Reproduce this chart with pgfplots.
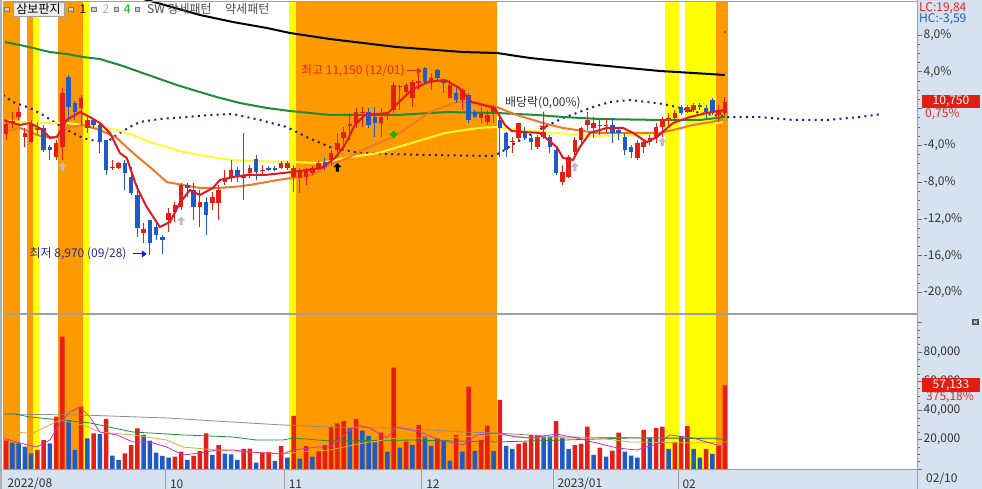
\documentclass[border=0pt]{standalone}
\usepackage{pgfplots}
\usepackage{pgfplotstable}
\pgfplotsset{compat=1.18}
\usetikzlibrary{arrows.meta}
\usepackage{fontspec}
\setmainfont{Noto Sans CJK KR}
\newcommand\fs{\fontsize{12bp}{13bp}\selectfont}
\definecolor{cOrange}{RGB}{255,153,0}
\definecolor{cYellow}{RGB}{255,255,0}
\definecolor{cUp}{RGB}{230,30,20}
\definecolor{cDown}{RGB}{30,90,200}
\definecolor{cPanel}{RGB}{214,226,240}
\definecolor{cFrame}{RGB}{160,160,160}
\definecolor{cBorder}{RGB}{175,175,175}
\definecolor{cTick}{RGB}{110,110,110}
\definecolor{cLabel}{RGB}{50,50,50}
\definecolor{cRedLine}{RGB}{225,25,35}
\definecolor{cOrLine}{RGB}{240,120,40}
\definecolor{cYelLine}{RGB}{255,250,50}
\definecolor{cGreen}{RGB}{30,140,60}
\definecolor{cDot}{RGB}{30,30,140}
\definecolor{cVGray}{RGB}{140,140,140}
\definecolor{cVGold}{RGB}{230,170,40}
\definecolor{cVMag}{RGB}{200,50,200}
\definecolor{cGrayArr}{RGB}{190,190,190}
\definecolor{cHi}{RGB}{225,40,30}
\definecolor{cLo}{RGB}{40,40,140}
\definecolor{cLoArr}{RGB}{20,20,220}
\definecolor{cBox}{RGB}{225,30,20}
\definecolor{cSqB}{RGB}{120,120,120}
\definecolor{cSqF}{RGB}{205,205,205}
\definecolor{cBoxBg}{RGB}{235,235,235}

\pgfdeclareplotmark{uparr}{%
 \pgfpathmoveto{\pgfpoint{0bp}{4.5bp}}%
 \pgfpathlineto{\pgfpoint{4bp}{0.5bp}}%
 \pgfpathlineto{\pgfpoint{1.6bp}{0.5bp}}%
 \pgfpathlineto{\pgfpoint{1.6bp}{-4bp}}%
 \pgfpathlineto{\pgfpoint{-1.6bp}{-4bp}}%
 \pgfpathlineto{\pgfpoint{-1.6bp}{0.5bp}}%
 \pgfpathlineto{\pgfpoint{-4bp}{0.5bp}}%
 \pgfpathclose\pgfusepathqfill}
\pgfdeclareplotmark{downarr}{%
 \pgfpathmoveto{\pgfpoint{0bp}{-9.5bp}}%
 \pgfpathlineto{\pgfpoint{4.5bp}{-4.5bp}}%
 \pgfpathlineto{\pgfpoint{0.6bp}{-4.5bp}}%
 \pgfpathlineto{\pgfpoint{0.6bp}{9.5bp}}%
 \pgfpathlineto{\pgfpoint{-0.6bp}{9.5bp}}%
 \pgfpathlineto{\pgfpoint{-0.6bp}{-4.5bp}}%
 \pgfpathlineto{\pgfpoint{-4.5bp}{-4.5bp}}%
 \pgfpathclose\pgfusepathqfill}
\pgfdeclareplotmark{gstar}{%
 \pgfpathrectangle{\pgfpoint{-3.5bp}{-1.3bp}}{\pgfpoint{7bp}{2.6bp}}%
 \pgfpathrectangle{\pgfpoint{-1.3bp}{-3.5bp}}{\pgfpoint{2.6bp}{7bp}}%
 \pgfpathcircle{\pgfpoint{0bp}{0bp}}{2.4bp}%
 \pgfusepathqfill}

% up (red) candles
\pgfplotstableread{
i o h l c
0 10370 10550 10300 10490
1 10500 10630 10440 10530
2 10570 10690 10540 10630
3 10340 10440 10220 10390
4 10280 10540 10270 10500
5 10420 10510 10360 10440
8 10110 10300 10070 10270
9 10220 10910 10070 10850
12 10680 10830 10480 10790
13 10440 10570 10390 10540
17 9980 10070 9960 9990
18 9980 10050 9970 10040
22 9230 9340 9110 9270
26 9380 9520 9240 9460
27 9470 9590 9350 9550
28 9530 9810 9490 9780
31 9530 9730 9300 9590
33 9570 9700 9490 9640
34 9570 9780 9380 9720
35 9820 9960 9780 9860
36 9860 10070 9820 9960
38 9860 10390 9610 9900
39 9920 10020 9860 9980
41 9950 10020 9900 9960
44 9980 10060 9970 10040
45 9980 10060 9960 10040
46 9870 10010 9700 9980
47 9860 9980 9690 9960
48 9880 9980 9780 9960
49 9920 10000 9900 9980
50 9980 10060 9960 10040
52 10070 10190 10010 10150
53 10190 10390 10110 10270
54 10330 10460 10220 10400
55 10470 10620 10300 10490
56 10500 10670 10440 10630
57 10620 10690 10460 10630
60 10500 10680 10340 10570
61 10590 10630 10540 10600
62 10650 10980 10620 10940
63 10920 10940 10650 10930
64 10860 10960 10840 10940
65 10790 11000 10690 10980
66 10970 11120 10890 10990
68 10980 11080 10890 11020
71 10790 11000 10790 10940
73 10770 10910 10650 10890
76 10560 10690 10500 10620
77 10510 10650 10480 10600
78 10630 10710 10500 10680
81 10280 10340 10150 10290
82 10330 10500 10280 10500
85 10220 10360 10200 10340
86 10340 10420 10320 10400
89 9820 10020 9780 9930
90 9880 10130 9860 10110
91 10160 10340 10130 10310
92 10310 10460 10250 10440
93 10480 10630 10420 10540
94 10440 10570 10330 10500
95 10470 10540 10360 10480
96 10470 10560 10390 10480
101 10100 10300 10070 10270
102 10220 10300 10150 10280
103 10280 10360 10250 10330
104 10330 10500 10270 10460
105 10460 10570 10340 10550
106 10550 10620 10460 10560
107 10560 10650 10540 10620
109 10630 10710 10620 10690
110 10650 10730 10630 10710
114 10600 10710 10510 10650
115 10620 10800 10580 10750
}\upT

% down (blue) candles
\pgfplotstableread{
i o h l c
6 10440 10480 10170 10190
7 10220 10250 10070 10190
10 11040 11060 10510 10690
11 10730 10760 10540 10630
14 10540 10560 10440 10480
15 10480 10500 10150 10280
16 10300 10310 9900 9960
19 10040 10070 9730 9920
20 9870 9990 9670 9690
21 9670 9780 9180 9280
23 9380 9380 8970 9110
24 9300 9340 9150 9200
25 9180 9200 8980 9150
29 9780 9810 9640 9750
30 9730 9810 9380 9530
32 9590 9640 9200 9440
37 9960 9990 9820 9880
40 10090 10130 9840 9930
42 9980 10000 9940 9960
43 9980 10000 9940 9960
51 10050 10100 9960 9990
58 10630 10670 10440 10480
59 10570 10690 10340 10500
67 11140 11150 10940 10980
69 11120 11130 11000 11020
70 11000 11000 10850 10970
72 10850 10920 10730 10770
74 10830 10850 10500 10540
75 10630 10650 10560 10570
79 10540 10620 10110 10440
80 10390 10400 10110 10190
83 10400 10460 10300 10330
84 10330 10360 10190 10280
87 10340 10360 10150 10220
88 10190 10210 9900 9920
97 10480 10560 10270 10390
98 10420 10460 10300 10390
99 10340 10390 10130 10190
100 10220 10250 10100 10170
108 10690 10710 10600 10620
111 10710 10730 10650 10690
112 10680 10710 10560 10630
113 10770 10790 10600 10630
}\downT

% volume, red bars
\pgfplotstableread{
i v
0 19400
5 13000
6 19800
8 35800
9 90500
12 42600
14 24400
16 34200
19 10700
20 16400
21 27800
27 8400
28 11800
30 8900
31 12300
32 24400
34 16400
38 13700
39 14000
41 11200
42 11500
44 15700
46 36300
48 15700
50 12500
51 16400
52 28700
53 31200
54 32800
56 34200
60 24800
62 69300
64 18700
66 30100
69 21000
72 23300
74 56300
76 19800
77 29600
79 47200
82 17100
83 18200
84 23300
85 23300
88 32800
91 16400
92 17100
93 28900
95 14600
97 12500
98 24800
102 26700
104 28200
105 28900
107 18200
108 22600
109 29400
112 13700
114 15700
115 57133
}\volUp

% volume, blue bars
\pgfplotstableread{
i v
1 18000
2 17600
3 15300
4 10700
7 17600
10 33500
11 13000
13 21000
15 23900
17 9100
18 6200
22 23300
23 19400
24 11200
25 8900
26 7700
29 6200
33 9600
35 10600
36 10000
37 6200
40 4300
43 5500
45 7700
47 7100
49 8400
55 27800
57 26200
58 22600
59 18200
61 11800
63 14600
65 16400
67 22100
68 15900
70 19200
71 5700
73 11800
75 12300
78 12300
80 15900
81 13700
86 22100
87 21800
89 21400
90 13700
94 9600
96 8400
99 11800
100 9100
101 7700
103 21700
106 13700
110 13700
111 7700
113 10300
}\volDown

\begin{document}
\begin{tikzpicture}
\useasboundingbox (0,0) rectangle (982bp,489bp);
\begin{scope}[x=1bp,y=1bp]
\fill[white] (0,0) rectangle (982,489);
\fill[cPanel] (917,0) rectangle (982,489);
\fill[cPanel] (0,0) rectangle (917,20);
\fill[cBorder] (0,0) rectangle (2.5,489);
\end{scope}

%================ PRICE PANEL ================
\begin{axis}[
  name=price, at={(3bp,176bp)}, anchor=south west,
  scale only axis, width=914bp, height=312bp,
  xmin=0, xmax=146.24, ymin=8298, ymax=11917,
  axis on top, clip mode=individual,
  axis line style={cFrame, line width=0.8bp},
  scaled ticks=false,
  xtick=\empty,
  ytick pos=right, yticklabel pos=right, tick align=outside,
  ytick={8536,8962.8,9389.6,9816.4,10243.2,10670,11096.8,11523.6},
  yticklabels={{-20,0\%},{-16,0\%},{-12,0\%},{-8,0\%},{-4,0\%},{},{4,0\%},{8,0\%}},
  minor y tick num=3,
  major tick length=5bp, minor tick length=3bp,
  tick style={cTick, line width=0.6bp},
  yticklabel style={font=\fs, text=cLabel, inner sep=1.5bp},
]
% pattern bands
\fill[cOrange] (axis cs:0,8298) rectangle (axis cs:2.72,11917);
\fill[cOrange] (axis cs:3.84,8298) rectangle (axis cs:4.8,11917);
\fill[cYellow] (axis cs:4.8,8298) rectangle (axis cs:5.76,11917);
\fill[cOrange] (axis cs:8.8,8298) rectangle (axis cs:12.8,11917);
\fill[cYellow] (axis cs:12.8,8298) rectangle (axis cs:13.76,11917);
\fill[cYellow] (axis cs:45.76,8298) rectangle (axis cs:46.88,11917);
\fill[cOrange] (axis cs:46.88,8298) rectangle (axis cs:79.04,11917);
\fill[cYellow] (axis cs:105.92,8298) rectangle (axis cs:108.16,11917);
\fill[cYellow] (axis cs:109.12,8298) rectangle (axis cs:114.08,11917);
\fill[cOrange] (axis cs:114.08,8298) rectangle (axis cs:116,11917);

% dotted line
\addplot[cDot, line width=2bp, dash pattern=on 2bp off 4.25bp] coordinates {
(0,10827) (1.6,10745) (4.3,10676) (6.4,10595) (10.2,10421) (12.8,10328) (13.9,10305)
(16.6,10281) (18.7,10386) (20.3,10455) (21.9,10514) (25.1,10548) (29.4,10571)
(33.1,10595) (36.8,10606) (41.1,10537) (45.4,10455) (48.6,10339) (52.3,10223)
(56.3,10165) (61.1,10142) (68.0,10131) (78.2,10119) (79.5,10154) (82.2,10281)
(86.4,10444) (89.6,10560) (91.8,10618) (94.4,10687) (97.1,10745) (100.3,10769)
(105.6,10722) (107.8,10687) (111.5,10618) (115.8,10571) (121.1,10571) (126.4,10537)
(131.8,10537) (137.1,10571) (140.6,10606)};
% black long MA
\addplot[black, line width=2bp] coordinates {
(20.3,11987) (23.0,11929) (31.5,11755) (36.8,11673) (42.2,11604) (45.9,11546)
(52.3,11476) (63.0,11383) (73.6,11325) (79.0,11314) (84.3,11256) (95.0,11175)
(105.1,11105) (110.4,11082) (115.5,11059)};
% green MA
\addplot[cGreen, line width=2bp] coordinates {
(0.3,11441) (2.7,11407) (4.8,11372) (7.5,11325) (10.2,11302) (12.8,11267) (15.5,11244)
(19.2,11163) (21.9,11093) (24.6,11024) (27.8,10943) (31.5,10861) (34.2,10803)
(37.9,10734) (42.2,10676) (45.9,10641) (52.3,10595) (63.0,10595) (71.0,10629)
(79.0,10618) (85.4,10595) (89.6,10571) (95.5,10548) (105.1,10537) (111.5,10537)
(115.5,10571)};
% yellow MA
\addplot[cYelLine, line width=2bp] coordinates {
(0,10537) (2.7,10514) (6.4,10502) (10.2,10502) (12.8,10479) (15.5,10455) (18.2,10421)
(20.8,10363) (23.5,10281) (26.2,10223) (28.8,10165) (31.5,10131) (34.2,10096)
(36.8,10073) (39.5,10061) (46.2,10049) (51.0,10038) (54.7,10096) (60.0,10154)
(65.4,10270) (70.7,10386) (76.0,10444) (78.7,10455) (83.2,10421) (88.6,10386)
(93.9,10351) (101.9,10363) (104.6,10386) (109.9,10455) (115.2,10514)};
% orange MA
\addplot[cOrLine, line width=2bp] coordinates {
(0,10398) (2.7,10444) (6.4,10339) (8.6,10339) (10.2,10444) (12.8,10479) (15.5,10421)
(18.2,10328) (20.8,10154) (23.5,9991) (26.2,9817) (28.8,9783) (31.5,9748) (34.2,9748)
(36.8,9759) (39.5,9783) (44.0,9841) (49.4,9899) (52.3,10015) (55.5,10107) (57.6,10189)
(63.0,10363) (68.3,10629) (72.6,10745) (76.3,10734) (79.0,10687) (82.2,10595)
(86.4,10502) (89.6,10444) (95.0,10386) (105.1,10386) (107.2,10421) (110.4,10479)
(115.2,10537)};

% candles: wicks
\addplot[draw=none, mark=none, forget plot, error bars/.cd, y dir=plus, y explicit,
  error mark=none, error bar style={draw=cUp, line width=1bp}]
  table[x expr=\thisrow{i}+0.5, y=l, y error plus expr=\thisrow{h}-\thisrow{l}] {\upT};
\addplot[draw=none, mark=none, forget plot, error bars/.cd, y dir=plus, y explicit,
  error mark=none, error bar style={draw=cDown, line width=1bp}]
  table[x expr=\thisrow{i}+0.5, y=l, y error plus expr=\thisrow{h}-\thisrow{l}] {\downT};
% candles: bodies
\addplot[draw=none, mark=none, forget plot, error bars/.cd, y dir=plus, y explicit,
  error mark=none, error bar style={draw=cUp, line width=4.6bp}]
  table[x expr=\thisrow{i}+0.5, y=o, y error plus expr={max(\thisrow{c}-\thisrow{o},12)}] {\upT};
\addplot[draw=none, mark=none, forget plot, error bars/.cd, y dir=plus, y explicit,
  error mark=none, error bar style={draw=cDown, line width=4.6bp}]
  table[x expr=\thisrow{i}+0.5, y=c, y error plus expr={max(\thisrow{o}-\thisrow{c},12)}] {\downT};

% red short MA
\addplot[cRedLine, line width=2bp] coordinates {
(0,10537) (2.7,10479) (4.3,10502) (6.4,10421) (7.5,10328) (8.6,10339) (10.2,10537)
(12.3,10629) (13.9,10571) (15.5,10502) (17.1,10386) (18.7,10154) (19.8,10096)
(21.4,9759) (23.0,9527) (25.1,9295) (26.7,9353) (28.3,9574) (29.9,9725) (31.5,9667)
(33.6,9748) (34.7,9841) (36.8,9875) (39.0,9899) (41.9,9899) (46.2,9933) (51.0,9980)
(53.1,10096) (54.7,10247) (56.3,10479) (57.9,10595) (61.6,10618) (63.2,10734)
(65.4,10885) (68.0,10977) (70.7,11001) (72.8,10919) (75.0,10745) (78.7,10676)
(80.3,10479) (81.4,10409) (83.2,10398) (85.9,10386) (88.6,10223) (89.6,10096)
(91.2,10073) (92.3,10223) (93.9,10386) (96.6,10444) (99.2,10444) (100.8,10386)
(103.0,10281) (104.6,10339) (107.2,10502) (109.9,10571) (112.6,10618) (115.5,10653)};

% signal marks
\addplot[only marks, mark=uparr, color=cGrayArr] coordinates {(9.5,9991) (28.5,9365) (91.5,9991) (105.5,10281)};
\addplot[only marks, mark=uparr, color=black] coordinates {(53.5,9985)};
\addplot[only marks, mark=gstar, color=green!75!black] coordinates {(62.5,10370)};
\addplot[only marks, mark=downarr, color=cUp] coordinates {(86.5,10525)};
\addplot[only marks, mark=*, mark size=0.8bp, color=cUp] coordinates {(115.5,11557)};

% annotations
\node[anchor=east, text=cHi, font=\fs, inner sep=0pt] at (axis cs:64.3,11105) {최고 11,150 (12/01)};
\draw[cHi, line width=1bp, -{Triangle[length=5bp,width=7bp]}] (axis cs:64.6,11105) -- (axis cs:67.0,11105);
\node[anchor=east, text=cLo, font=\fs, inner sep=0pt] at (axis cs:19.8,8983) {최저 8,970 (09/28)};
\draw[cLoArr, line width=1bp, -{Triangle[length=5bp,width=7bp]}] (axis cs:20.8,8983) -- (axis cs:23.0,8983);
\node[anchor=west, text=cLabel, font=\fs, inner sep=0pt] at (axis cs:80.3,10734) {배당락(0,00\%)};
\end{axis}

%================ VOLUME PANEL ================
\begin{axis}[
  name=vol, at={(3bp,20bp)}, anchor=south west,
  scale only axis, width=914bp, height=155bp,
  xmin=0, xmax=146.24, ymin=0, ymax=106020,
  axis on top, clip mode=individual,
  axis line style={cFrame, line width=0.8bp},
  scaled ticks=false,
  xtick={0,26,45,67,88,108},
  xticklabels={2022/08,10,11,12,2023/01,02},
  xtick style={draw=none},
  xticklabel style={anchor=west, yshift=-10bp, xshift=1bp, font=\fs, text=cLabel},
  ytick={0,20000,40000,60000,80000,100000},
  yticklabels={{},{20,000},{40,000},{60,000},{80,000},{}},
  ytick pos=right, yticklabel pos=right, tick align=outside,
  minor y tick num=3,
  major tick length=5bp, minor tick length=3bp,
  ytick style={cTick, line width=0.6bp},
  yticklabel style={font=\fs, text=cLabel, inner sep=1.5bp},
]
\fill[cOrange] (axis cs:0,0) rectangle (axis cs:2.72,106020);
\fill[cOrange] (axis cs:3.84,0) rectangle (axis cs:4.8,106020);
\fill[cYellow] (axis cs:4.8,0) rectangle (axis cs:5.76,106020);
\fill[cOrange] (axis cs:8.8,0) rectangle (axis cs:12.8,106020);
\fill[cYellow] (axis cs:12.8,0) rectangle (axis cs:13.76,106020);
\fill[cYellow] (axis cs:45.76,0) rectangle (axis cs:46.88,106020);
\fill[cOrange] (axis cs:46.88,0) rectangle (axis cs:79.04,106020);
\fill[cYellow] (axis cs:105.92,0) rectangle (axis cs:108.16,106020);
\fill[cYellow] (axis cs:109.12,0) rectangle (axis cs:114.08,106020);
\fill[cOrange] (axis cs:114.08,0) rectangle (axis cs:116,106020);

\addplot[ybar, bar width=4.6bp, bar shift=0pt, fill=cUp, draw=none] table[x expr=\thisrow{i}+0.5, y=v] {\volUp};
\addplot[ybar, bar width=4.6bp, bar shift=0pt, fill=cDown, draw=none] table[x expr=\thisrow{i}+0.5, y=v] {\volDown};

\addplot[cVGray, line width=0.8bp] coordinates {
(0,37600) (12.8,36900) (26.2,34900) (36.8,32100) (44.8,30100) (52.3,28700) (63.0,28000)
(73.6,25300) (79.0,24600) (89.6,21900) (105.1,21200) (115.5,21200)};
\addplot[cGreen, line width=0.8bp] coordinates {
(0,37600) (1.9,37600) (4.3,35600) (13.9,31500) (20.8,25300) (28.8,23300) (36.8,21900)
(40.6,19800) (44.8,19800) (46.4,21200) (52.3,19200) (65.6,19800) (79.0,18500)
(89.6,19800) (100.3,21200) (105.1,21200) (115.8,20500)};
\addplot[cVGold, line width=0.8bp] coordinates {
(0,25300) (4.8,24600) (9.1,33500) (12.8,30100) (15.5,25300) (20.8,23300) (26.2,19800)
(28.8,15000) (34.2,13000) (39.5,11600) (44.8,10300) (47.5,11600) (52.3,13000)
(57.6,17800) (63.0,21200) (68.3,21200) (73.6,21900) (79.0,23900) (84.3,21200)
(95.0,21200) (100.3,18500) (110.4,17800) (115.8,18500)};
\addplot[cVMag, line width=0.8bp] coordinates {
(0,21200) (2.7,17800) (5.4,15000) (7.5,19800) (9.1,31500) (10.7,39000) (12.3,42400)
(13.9,35600) (15.5,25300) (18.2,23300) (20.8,18500) (23.5,18500) (26.2,15000)
(28.8,9600) (31.5,10900) (34.2,13000) (36.8,13000) (39.5,11600) (42.2,10900)
(44.8,10300) (46.4,13000) (50.2,15000) (52.3,15000) (56.6,30100) (58.7,28000)
(61.4,21200) (63.0,28700) (66.7,25300) (69.9,19800) (73.6,16400) (75.8,23300)
(79.0,24600) (82.2,21900) (84.3,21200) (88.6,23900) (91.8,21200) (95.0,17800)
(98.2,14400) (101.4,13000) (105.1,17800) (106.7,23300) (110.4,21200) (113.1,17800)
(115.5,15000)};

% separators in the date strip
\draw[cFrame, line width=0.8bp] (axis cs:26,0) -- ++(0pt,-20bp);
\draw[cFrame, line width=0.8bp] (axis cs:45,0) -- ++(0pt,-20bp);
\draw[cFrame, line width=0.8bp] (axis cs:67,0) -- ++(0pt,-20bp);
\draw[cFrame, line width=0.8bp] (axis cs:88,0) -- ++(0pt,-20bp);
\draw[cFrame, line width=0.8bp] (axis cs:108,0) -- ++(0pt,-20bp);
\end{axis}

\begin{scope}[x=1bp,y=1bp]
\draw[cFrame, line width=0.8bp] (917,0) -- (917,489);
% top legend
\draw[cSqB, line width=0.5bp, fill=cSqF] (4.7,478) rectangle (8.9,482.2);
\draw[cFrame, line width=0.6bp, fill=cBoxBg] (13,472.5) rectangle (64,486.5);
\node[font=\fs, text=black, inner sep=0pt] at (38.5,479.5) {삼보판지};
\draw[cSqB, line width=0.5bp, fill=cSqF] (68.7,478) rectangle (72.9,482.2);
\node[font=\fs, text=black, inner sep=0pt, anchor=west] at (79.5,479.5) {1};
\draw[cSqB, line width=0.5bp, fill=cSqF] (91.7,478) rectangle (95.9,482.2);
\node[font=\fs, text=black!30, inner sep=0pt, anchor=west] at (102.5,479.5) {2};
\draw[cSqB, line width=0.5bp, fill=cSqF] (114,478) rectangle (118.2,482.2);
\node[font=\fs, text=green!70!black, inner sep=0pt, anchor=west] at (123.8,479.5) {4};
\draw[cSqB, line width=0.5bp, fill=cSqF] (135,478) rectangle (139.2,482.2);
\node[font=\fs, text=black!70, inner sep=0pt, anchor=west] at (147,479.5) {SW 강세패턴};
\node[font=\fs, text=black!70, inner sep=0pt, anchor=west] at (225,479.5) {약세패턴};
% right panel labels
\node[font=\fs, text=cHi, inner sep=0pt, anchor=west] at (919,481) {LC:19,84};
\node[font=\fs, text=cDown, inner sep=0pt, anchor=west] at (919,469.5) {HC:-3,59};
\fill[cBox] (922,381) rectangle (980,394);
\node[font=\fs, text=white, inner sep=0pt] at (951,387.5) {10,750};
\node[font=\fs, text=cHi, inner sep=0pt, anchor=west] at (925,374.5) {0,75\%};
\fill[cBox] (922,97) rectangle (980,111);
\node[font=\fs, text=white, inner sep=0pt] at (951,104) {57,133};
\node[font=\fs, text=cHi, inner sep=0pt, anchor=west] at (926,91.5) {375,18\%};
\fill[black!70] (972,164) rectangle (979,170);
\draw[white, line width=0.6bp] (973.8,165.5) -- (977.2,168.5) (973.8,168.5) -- (977.2,165.5);
\node[font=\fs, text=cLabel, inner sep=0pt, anchor=west] at (926,10) {02/10};
\end{scope}
\end{tikzpicture}
\end{document}
